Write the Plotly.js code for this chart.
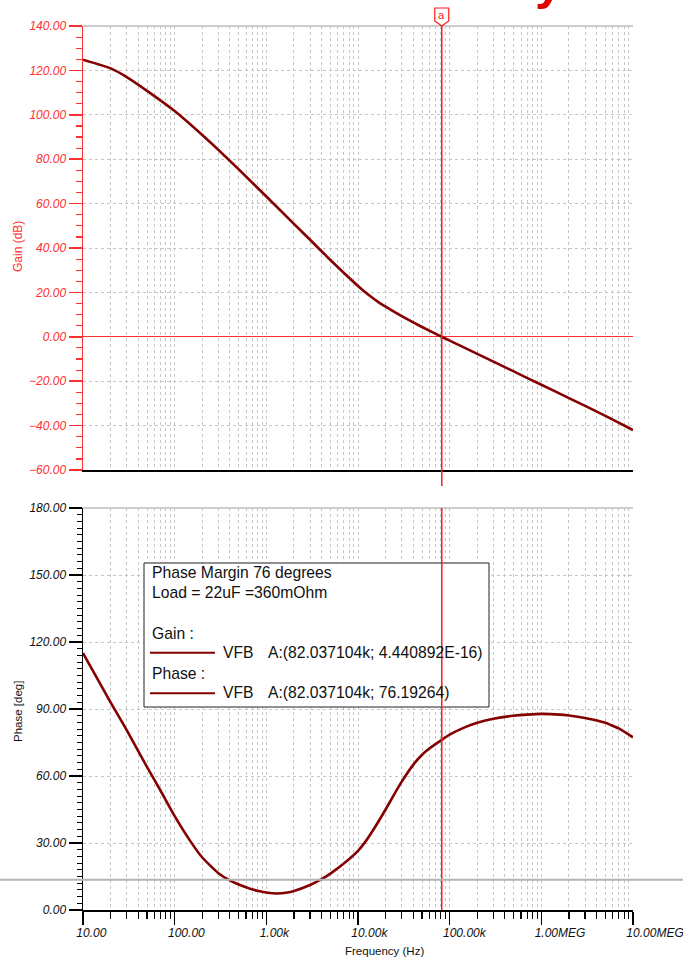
<!DOCTYPE html>
<html>
<head>
<meta charset="utf-8">
<script src="https://cdn.plot.ly/plotly-3.0.1.min.js"></script>
<style>html,body{margin:0;padding:0;background:#fff;}#chart{width:683px;height:960px;}</style>
</head>
<body>
<div id="chart"></div>
<script>
// ---- data ----
const gainFreq = [10,20,30,50,100,200,300,500,1000,2000,3000,5000,10000,13000,17000,20000,30000,50000,82037.104,100000,200000,500000,1e6,2e6,5e6,1e7];
const gainDb   = [124.8,120.9,117,110.8,101.7,90.9,84.2,75.4,63.2,50.9,43.7,34.6,22.9,18.9,15.4,13.6,9.3,4.4,0,-1.7,-7.7,-15.6,-21.6,-27.6,-35.6,-42];

const phaseFreq = [10,20,30,50,70,100,150,200,300,400,600,800,1000,1300,1700,2000,3000,4000,5000,7000,10000,12000,15000,20000,25000,30000,40000,50000,60000,82037.104,100000,150000,200000,300000,500000,700000,1e6,1.6e6,2e6,3e6,3.6e6,5e6,5.6e6,7e6,1e7];
const phaseDeg  = [115,93,80.5,64,53.5,42,30.5,23.5,16.5,13.3,10.2,8.6,7.8,7.4,7.8,8.5,11.2,13.8,16.3,20.8,26.5,30.5,36.5,45,52,57.5,65,69.5,72.3,76.2,78.5,82,83.8,85.6,87,87.5,87.8,87.5,87.1,86,85.3,83.8,83,81.3,77.3];

const decadeVals   = [10,100,1000,10000,100000,1e6,1e7];
const decadeLabels = ['10.00','100.00','1.00k','10.00k','100.00k','1.00MEG','10.00MEG'];
const gainTicks  = [-60,-40,-20,0,20,40,60,80,100,120,140];
const phaseTicks = [0,30,60,90,120,150,180];

const cursorFreq = 82037.104;
const legendLines = [
  'Phase Margin 76 degrees',
  'Load = 22uF =360mOhm',
  'Gain :',
  'A:(82.037104k; 4.440892E-16)',
  'Phase :',
  'A:(82.037104k; 76.19264)'
];

// ---- helpers ----
const W = 683, H = 960;
const px = x => x / W;
const py = y => 1 - y / H;
const minorVals = [];
for (let d = 1; d < 7; d++) for (let m = 2; m <= 9; m++) minorVals.push(m * Math.pow(10, d));
const phaseMinor = [];
for (let v = 0; v <= 180; v += 3) if (v % 30 !== 0) phaseMinor.push(v);
const gainMinor = [];
for (let v = -60; v <= 140; v += 5) if (v % 20 !== 0) gainMinor.push(v);

const FONT = 'Liberation Sans, Arial, Helvetica, sans-serif';
const RED = '#ff3030';
const CURVE = '#850000';
const GRID = '#c6c6c6';

const xDomain = [px(83), px(633)];

const traces = [
  {x: gainFreq, y: gainDb, xaxis: 'x', yaxis: 'y', mode: 'lines',
   line: {color: CURVE, width: 2.6, shape: 'spline', smoothing: 0.5}, hoverinfo: 'none'},
  {x: phaseFreq, y: phaseDeg, xaxis: 'x2', yaxis: 'y2', mode: 'lines',
   line: {color: CURVE, width: 2.6, shape: 'spline', smoothing: 0.5}, hoverinfo: 'none'}
];

const xCommon = {
  type: 'log', range: [1, 7], domain: xDomain,
  tickmode: 'array', tickvals: decadeVals,
  showgrid: true, gridcolor: GRID, griddash: 'dot', gridwidth: 1,
  zeroline: false, fixedrange: true
};

const legendFont = {family: FONT, size: 15.7, color: '#111111'};
function legendText(text, x, y) {
  return {text: text, xref: 'paper', yref: 'paper', x: px(x), y: py(y),
          xanchor: 'left', yanchor: 'middle', showarrow: false, font: legendFont};
}

const layout = {
  width: W, height: H,
  margin: {l: 0, r: 0, t: 0, b: 0},
  paper_bgcolor: '#ffffff', plot_bgcolor: '#ffffff',
  showlegend: false,
  font: {family: FONT},
  xaxis: Object.assign({}, xCommon, {
    anchor: 'y', showticklabels: false, ticks: '',
    showline: true, linecolor: '#000000', linewidth: 1.5,
    minor: {tickvals: minorVals, ticks: '', showgrid: true, gridcolor: GRID, griddash: 'dot', gridwidth: 1}
  }),
  yaxis: {
    domain: [py(470), py(26)], range: [-60, 140], anchor: 'x',
    tickmode: 'array', tickvals: gainTicks, tickformat: '.2f',
    ticks: 'outside', ticklen: 13, tickwidth: 1.5, tickcolor: RED,
    showline: true, linecolor: RED, linewidth: 1.5,
    tickfont: {family: FONT, size: 12, color: RED, style: 'italic'},
    showgrid: true, gridcolor: GRID, griddash: 'dot', gridwidth: 1,
    zeroline: true, zerolinecolor: RED, zerolinewidth: 1.2,
    minor: {tickvals: gainMinor, ticks: 'outside', ticklen: 6, tickcolor: RED, tickwidth: 1.2, showgrid: false},
    fixedrange: true
  },
  xaxis2: Object.assign({}, xCommon, {
    anchor: 'y2', ticktext: decadeLabels, showticklabels: true,
    ticks: 'outside', ticklen: 13, tickwidth: 1.2, tickcolor: '#000000',
    showline: true, linecolor: '#000000', linewidth: 1.5,
    ticklabelposition: 'outside right', ticklabelshift: -8, ticklabelstandoff: 11,
    ticklabeloverflow: 'allow',
    tickfont: {family: FONT, size: 12, color: '#111111', style: 'italic'},
    minor: {tickvals: minorVals, ticks: 'outside', ticklen: 7, tickcolor: '#000000', tickwidth: 1.2,
            showgrid: true, gridcolor: GRID, griddash: 'dot', gridwidth: 1}
  }),
  yaxis2: {
    domain: [py(910), py(508)], range: [0, 180], anchor: 'x2',
    tickmode: 'array', tickvals: phaseTicks, tickformat: '.2f',
    ticks: 'outside', ticklen: 13, tickwidth: 1.2, tickcolor: '#000000',
    showline: true, linecolor: '#000000', linewidth: 1.5,
    tickfont: {family: FONT, size: 12, color: '#111111', style: 'italic'},
    showgrid: true, gridcolor: GRID, griddash: 'dot', gridwidth: 1,
    zeroline: false,
    minor: {tickvals: phaseMinor, ticks: 'outside', ticklen: 5, tickcolor: '#000000', tickwidth: 1, showgrid: false},
    fixedrange: true
  },
  shapes: [
    // plot top frames
    {type: 'line', xref: 'paper', yref: 'paper', x0: xDomain[0], x1: xDomain[1], y0: py(26), y1: py(26),
     line: {color: '#bdbdbd', width: 1.5}},
    {type: 'line', xref: 'paper', yref: 'paper', x0: xDomain[0], x1: xDomain[1], y0: py(508), y1: py(508),
     line: {color: '#bdbdbd', width: 1.5}},
    // legend box
    {type: 'rect', xref: 'paper', yref: 'paper', x0: px(144), x1: px(489), y0: py(707), y1: py(563),
     fillcolor: '#ffffff', line: {color: '#222222', width: 1}, layer: 'above'},
    {type: 'line', xref: 'paper', yref: 'paper', x0: px(150), x1: px(215), y0: py(652.7), y1: py(652.7),
     line: {color: CURVE, width: 2}, layer: 'above'},
    {type: 'line', xref: 'paper', yref: 'paper', x0: px(150), x1: px(215), y0: py(693.3), y1: py(693.3),
     line: {color: CURVE, width: 2}, layer: 'above'},
    // cursor a
    {type: 'line', xref: 'x', yref: 'paper', x0: cursorFreq, x1: cursorFreq,
     y0: py(486), y1: py(26), line: {color: '#ff1a1a', width: 1.5}, layer: 'above'},
    {type: 'line', xref: 'x2', yref: 'paper', x0: cursorFreq, x1: cursorFreq,
     y0: py(910), y1: py(508), line: {color: '#ff1a1a', width: 1.5}, layer: 'above'},
    {type: 'path', xref: 'x', yref: 'paper', xsizemode: 'pixel', ysizemode: 'pixel',
     xanchor: cursorFreq, yanchor: 1,
     path: 'M -7,-8 L 7,-8 L 7,-21 L 0,-26 L -7,-21 Z',
     fillcolor: '#ffffff', line: {color: '#ff1a1a', width: 1.2}, layer: 'above'},
    // grey horizontal line across the page
    {type: 'line', xref: 'paper', yref: 'paper', x0: 0, x1: 1, y0: py(879.7), y1: py(879.7),
     line: {color: '#b4b4b4', width: 2}, layer: 'above'}
  ],
  annotations: [
    {text: 'a', xref: 'x', yref: 'paper', x: Math.log10(cursorFreq), y: py(14.5),
     xanchor: 'center', yanchor: 'middle', showarrow: false,
     font: {family: FONT, size: 11, color: '#ff1a1a'}},
    {text: 'y', xref: 'paper', yref: 'paper', x: px(549), y: py(12), xanchor: 'center', yanchor: 'bottom',
     showarrow: false, font: {family: FONT, size: 50, color: '#e00000', weight: 'bold'}},
    {text: 'Gain (dB)', xref: 'paper', yref: 'paper', x: px(18), y: py(247), textangle: -90,
     xanchor: 'center', yanchor: 'middle', showarrow: false,
     font: {family: FONT, size: 12, color: RED}},
    {text: 'Phase [deg]', xref: 'paper', yref: 'paper', x: px(18), y: py(712), textangle: -90,
     xanchor: 'center', yanchor: 'middle', showarrow: false,
     font: {family: FONT, size: 11.5, color: '#111111'}},
    {text: 'Frequency (Hz)', xref: 'paper', yref: 'paper', x: px(384), y: py(951),
     xanchor: 'center', yanchor: 'middle', showarrow: false,
     font: {family: FONT, size: 11.5, color: '#111111'}},
    // legend text
    legendText(legendLines[0], 150, 572.3),
    legendText(legendLines[1], 150, 592.3),
    legendText(legendLines[2], 150, 633.3),
    legendText('VFB', 220.5, 652.7),
    legendText(legendLines[3], 265.5, 652.7),
    legendText(legendLines[4], 150, 673.3),
    legendText('VFB', 220.5, 692.3),
    legendText(legendLines[5], 265.5, 692.3)
  ]
};

Plotly.newPlot('chart', traces, layout, {displayModeBar: false, staticPlot: true});
</script>
</body>
</html>
